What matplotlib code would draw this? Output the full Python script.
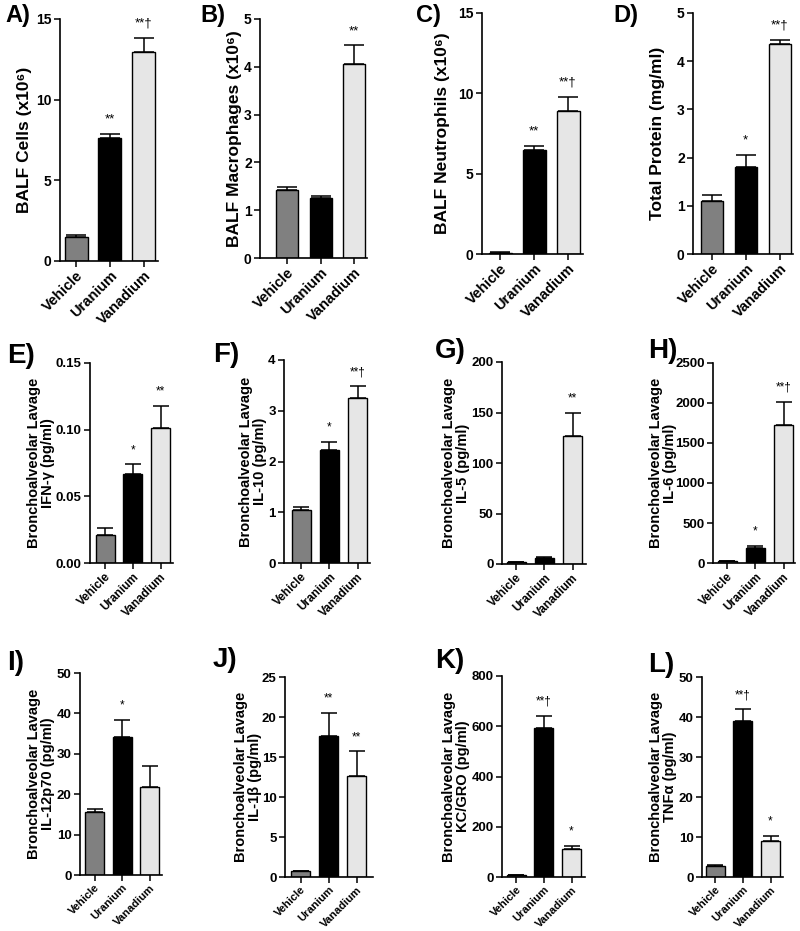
import matplotlib
matplotlib.use('Agg')
import matplotlib.pyplot as plt
import numpy as np

plt.rcParams['font.family'] = ['Liberation Sans', 'DejaVu Sans']
plt.rcParams['font.weight'] = 'bold'

groups = ['Vehicle', 'Uranium', 'Vanadium']
bar_colors = ['#808080', '#000000', '#e6e6e6']

# values: mean, error (upper only), significance marks
balf_cells = [1.5, 7.65, 12.95]
balf_cells_err = [0.1, 0.25, 0.9]
balf_cells_sig = ['', '**', '**†']

balf_macro = [1.42, 1.25, 4.05]
balf_macro_err = [0.07, 0.05, 0.4]
balf_macro_sig = ['', '', '**']

balf_neut = [0.08, 6.45, 8.9]
balf_neut_err = [0.02, 0.3, 0.9]
balf_neut_sig = ['', '**', '**†']

protein = [1.1, 1.8, 4.35]
protein_err = [0.12, 0.25, 0.1]
protein_sig = ['', '*', '**†']

ifng = [0.021, 0.067, 0.101]
ifng_err = [0.005, 0.007, 0.017]
ifng_sig = ['', '*', '**']

il10 = [1.05, 2.22, 3.25]
il10_err = [0.05, 0.17, 0.23]
il10_sig = ['', '*', '**†']

il5 = [1.5, 5.5, 127]
il5_err = [0.5, 1.0, 23]
il5_sig = ['', '', '**']

il6 = [22, 187, 1720]
il6_err = [8, 25, 290]
il6_sig = ['', '*', '**†']

il12 = [15.5, 34.2, 21.8]
il12_err = [0.8, 4.1, 5.3]
il12_sig = ['', '*', '']

il1b = [0.7, 17.6, 12.6]
il1b_err = [0.1, 2.9, 3.1]
il1b_sig = ['', '**', '**']

kc = [7, 593, 112]
kc_err = [2, 47, 12]
kc_sig = ['', '**†', '*']

tnfa = [2.7, 38.9, 9.0]
tnfa_err = [0.2, 3.0, 1.3]
tnfa_sig = ['', '**†', '*']

W, H = 800, 931
fig = plt.figure(figsize=(W / 100, H / 100), dpi=100)

# letter, ylabel, values, errs, sig, yticks, tick fmt, pixel layout
# layout: axis_x, top, bottom, right, first bar center, last bar center, bar width,
#         label right edge, letter x, letter baseline
panels = [
    ('A)', 'BALF Cells (x10⁶)', balf_cells, balf_cells_err, balf_cells_sig,
     [0, 5, 10, 15], '{:g}', (60, 19, 261, 158, 76, 143.5, 23, 32, 5, 22)),
    ('B)', 'BALF Macrophages (x10⁶)', balf_macro, balf_macro_err, balf_macro_sig,
     [0, 1, 2, 3, 4, 5], '{:g}', (260, 19, 258, 367, 287, 354, 22, 242, 200, 22)),
    ('C)', 'BALF Neutrophils (x10⁶)', balf_neut, balf_neut_err, balf_neut_sig,
     [0, 5, 10, 15], '{:g}', (482, 13, 254, 583, 500, 568, 23, 450, 416, 22)),
    ('D)', 'Total Protein (mg/ml)', protein, protein_err, protein_sig,
     [0, 1, 2, 3, 4, 5], '{:g}', (693, 13, 254, 793, 712, 779.5, 22, 665, 613, 22)),
    ('E)', 'Bronchoalveolar Lavage\nIFN-γ (pg/ml)', ifng, ifng_err, ifng_sig,
     [0, 0.05, 0.10, 0.15], '{:.2f}', (90, 363, 563, 173, 105, 160.5, 19, 55, 7, 363)),
    ('F)', 'Bronchoalveolar Lavage\nIL-10 (pg/ml)', il10, il10_err, il10_sig,
     [0, 1, 2, 3, 4], '{:g}', (284, 360, 563, 370, 301, 357.5, 19, 267, 213, 362)),
    ('G)', 'Bronchoalveolar Lavage\nIL-5 (pg/ml)', il5, il5_err, il5_sig,
     [0, 50, 100, 150, 200], '{:g}', (502, 362, 564, 586, 516, 572.5, 19, 470, 435, 358)),
    ('H)', 'Bronchoalveolar Lavage\nIL-6 (pg/ml)', il6, il6_err, il6_sig,
     [0, 500, 1000, 1500, 2000, 2500], '{:g}', (713, 363, 563, 795, 727, 783.5, 19, 677, 648, 358)),
    ('I)', 'Bronchoalveolar Lavage\nIL-12p70 (pg/ml)', il12, il12_err, il12_sig,
     [0, 10, 20, 30, 40, 50], '{:g}', (80, 673, 875, 162, 94.5, 149.5, 19, 55, 7, 670)),
    ('J)', 'Bronchoalveolar Lavage\nIL-1β (pg/ml)', il1b, il1b_err, il1b_sig,
     [0, 5, 10, 15, 20, 25], '{:g}', (285, 677, 877, 373, 300.5, 356.5, 19, 262, 213, 667)),
    ('K)', 'Bronchoalveolar Lavage\nKC/GRO (pg/ml)', kc, kc_err, kc_sig,
     [0, 200, 400, 600, 800], '{:g}', (502, 676, 877, 585, 516, 571.5, 19, 470, 435, 668)),
    ('L)', 'Bronchoalveolar Lavage\nTNFα (pg/ml)', tnfa, tnfa_err, tnfa_sig,
     [0, 10, 20, 30, 40, 50], '{:g}', (702, 677, 877, 783, 715, 770.5, 19, 677, 648, 672)),
]

for i, (letter, ylab, vals, errs, sig, yticks, fmt, lay) in enumerate(panels):
    ax_x, top, bot, right, c0, c2, bw, lab_r, let_x, let_y = lay
    row1 = i < 4
    row3 = i >= 8
    ax = fig.add_axes([ax_x / W, 1 - bot / H, (right - ax_x) / W, (bot - top) / H])
    s = (c2 - c0) / 2
    x = np.arange(3)
    ax.bar(x, vals, width=bw / s, color=bar_colors, edgecolor='black',
           linewidth=1.0, zorder=2)
    ax.errorbar(x, vals, yerr=[[0, 0, 0], errs], fmt='none', ecolor='black',
                elinewidth=1.1, capsize=7 if row1 else 6, capthick=1.1, zorder=1)
    ymax = yticks[-1]
    ax.set_xlim(-(c0 - ax_x) / s, 2 + (right - c2) / s)
    ax.set_ylim(0, ymax)
    ax.set_yticks(yticks)
    ax.set_yticklabels([fmt.format(t) for t in yticks])
    ax.set_xticks(x)
    ax.set_xticklabels(groups, rotation=45, ha='right', rotation_mode='anchor')
    for sp in ['top', 'right']:
        ax.spines[sp].set_visible(False)
    for sp in ['left', 'bottom']:
        ax.spines[sp].set_linewidth(1.2)
    ax.tick_params(axis='both', direction='out', length=4, width=1.1,
                   labelsize=10 if row1 else 9.5, pad=2)
    ax.tick_params(axis='x', labelsize=10.5 if row1 else (8 if row3 else 8.5),
                   pad=1.5)
    for t in ax.get_xticklabels() + ax.get_yticklabels():
        t.set_fontweight('bold')
    ax.set_ylabel(ylab, fontsize=12.5 if row1 else 10.5, fontweight='bold',
                  linespacing=1.0)
    ax.yaxis.set_label_coords((lab_r - ax_x) / (right - ax_x), 0.5)
    for xi, v, e, st in zip(x, vals, errs, sig):
        if st:
            ax.annotate(st, (xi, v + e), xytext=(0, 6), textcoords='offset points',
                        ha='center', va='bottom', fontsize=9.5 if row1 else 8.5,
                        fontweight='normal')
    fig.text(let_x / W, 1 - let_y / H, letter, fontsize=17 if row1 else 20,
             fontweight='bold', ha='left', va='baseline')

fig.savefig('out.png', dpi=100)
